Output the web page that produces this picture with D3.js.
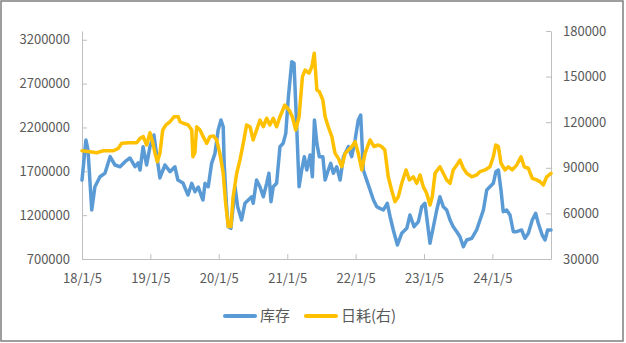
<!DOCTYPE html>
<html>
<head>
<meta charset="utf-8">
<script src="https://cdn.jsdelivr.net/npm/d3@7"></script>
<style>
  body { margin: 0; background: #fff; }
  svg { display: block; }
  text { font-family: "Noto Sans CJK SC", "DejaVu Sans", sans-serif; }
</style>
</head>
<body>
<script>
// 数据：库存（左轴）
const stockDates = ["2018-01-05","2018-01-26","2018-02-06","2018-02-26","2018-03-15","2018-04-11","2018-05-08","2018-06-04","2018-06-30","2018-07-27","2018-08-23","2018-09-18","2018-10-15","2018-10-31","2018-11-11","2018-11-27","2018-12-07","2018-12-16",
  "2019-01-03","2019-01-24","2019-02-09","2019-02-25","2019-03-24","2019-04-20","2019-05-16","2019-06-01","2019-06-28","2019-07-25","2019-08-14","2019-08-31","2019-09-18","2019-10-06","2019-10-13","2019-10-24","2019-11-10","2019-11-28","2019-12-16",
  "2020-01-02","2020-01-17","2020-01-29","2020-02-03","2020-02-16","2020-02-25","2020-03-10","2020-03-22","2020-04-01","2020-04-15","2020-05-06","2020-05-24","2020-06-11","2020-06-29","2020-07-07","2020-07-25","2020-08-12","2020-08-30","2020-09-17","2020-09-29","2020-10-10","2020-10-22","2020-11-09","2020-11-27","2020-12-14","2020-12-28",
  "2021-01-11","2021-01-29","2021-02-10","2021-02-25","2021-03-09","2021-03-23","2021-04-06","2021-04-19","2021-05-07","2021-05-19","2021-05-30","2021-06-12","2021-06-25","2021-07-14","2021-07-26","2021-08-12","2021-08-25","2021-09-08","2021-09-26","2021-10-14","2021-11-01","2021-11-27","2021-12-15",
  "2022-01-02","2022-01-19","2022-02-01","2022-02-15","2022-03-05","2022-03-23","2022-04-10","2022-04-28","2022-05-15","2022-06-02","2022-06-23","2022-07-08","2022-07-25","2022-08-16","2022-09-08","2022-10-05","2022-10-22","2022-11-13","2022-12-06","2022-12-24",
  "2023-01-10","2023-01-24","2023-02-06","2023-02-24","2023-03-14","2023-03-31","2023-04-18","2023-05-06","2023-05-24","2023-06-10","2023-06-29","2023-07-16","2023-08-03","2023-08-21","2023-09-17","2023-10-13","2023-10-31","2023-11-18","2023-12-06","2023-12-23",
  "2024-01-10","2024-01-24","2024-02-06","2024-02-20","2024-03-03","2024-03-21","2024-04-08","2024-04-26","2024-05-14","2024-06-09","2024-06-27","2024-07-15","2024-08-05","2024-08-23","2024-09-06","2024-09-27","2024-10-12","2024-10-26","2024-11-13"];
const stockValues = [1600000,2057000,1943000,1259000,1524000,1638000,1680000,1867000,1772000,1752000,1810000,1852000,1752000,1795000,1715000,1981000,1867000,1772000,
  1981000,2114000,1867000,1624000,1772000,1696000,1752000,1600000,1567000,1430000,1563000,1467000,1520000,1410000,1373000,1563000,1524000,1791000,1905000,
  2171000,2285000,2208000,1791000,1296000,1068000,1050000,1296000,1524000,1296000,1145000,1335000,1373000,1410000,1335000,1600000,1524000,1410000,1563000,1677000,1353000,1524000,1563000,1981000,2019000,2133000,
  2551000,2950000,2932000,2171000,1524000,1715000,1867000,1715000,1886000,1638000,2285000,2019000,1867000,1867000,1600000,1715000,1791000,1677000,1752000,1600000,1867000,1981000,1867000,
  2057000,2285000,2342000,1715000,1600000,1487000,1373000,1296000,1277000,1259000,1335000,1182000,1031000,860000,993000,1050000,1202000,1068000,1125000,1296000,
  1335000,1100000,880000,1068000,1259000,1410000,1296000,1259000,1145000,1068000,1011000,954000,840000,917000,936000,1031000,1145000,1259000,1487000,1524000,
  1563000,1696000,1715000,1487000,1240000,1259000,1202000,1011000,1011000,1031000,936000,993000,1145000,1221000,1107000,973000,917000,1031000,1031000];

// 数据：日耗（右轴）
const useDates = ["2018-01-05","2018-02-17","2018-03-24","2018-04-29","2018-06-21","2018-07-18","2018-08-05","2018-09-18","2018-10-24","2018-11-11","2018-11-28","2018-12-16",
  "2019-01-03","2019-01-17","2019-01-30","2019-02-11","2019-02-25","2019-03-12","2019-03-29","2019-04-20","2019-05-11","2019-06-03","2019-06-12","2019-06-30","2019-07-26","2019-08-14","2019-08-20","2019-08-31","2019-09-09","2019-09-27","2019-10-14","2019-11-02","2019-11-19","2019-12-07","2019-12-25",
  "2020-01-11","2020-01-29","2020-02-11","2020-02-25","2020-03-10","2020-03-22","2020-04-10","2020-04-27","2020-05-15","2020-06-02","2020-06-20","2020-07-07","2020-07-25","2020-08-12","2020-08-30","2020-09-17","2020-10-04","2020-10-22","2020-11-09","2020-11-27","2020-12-23",
  "2021-01-15","2021-02-01","2021-02-19","2021-03-09","2021-03-27","2021-04-10","2021-05-01","2021-05-16","2021-05-29","2021-06-12","2021-06-25","2021-07-14","2021-07-26","2021-08-12","2021-08-31","2021-09-17","2021-10-05","2021-10-23","2021-11-10","2021-11-27","2021-12-15",
  "2022-01-02","2022-01-19","2022-02-07","2022-02-24","2022-03-23","2022-04-13","2022-05-06","2022-05-24","2022-06-10","2022-06-28","2022-07-16","2022-08-03","2022-08-21","2022-09-08","2022-10-01","2022-10-19","2022-11-09","2022-11-27","2022-12-15",
  "2023-01-01","2023-01-19","2023-02-06","2023-02-18","2023-03-05","2023-03-31","2023-04-18","2023-05-06","2023-05-24","2023-06-10","2023-06-29","2023-07-16","2023-08-03","2023-08-21","2023-09-17","2023-10-13","2023-10-31","2023-11-27","2023-12-23",
  "2024-01-10","2024-01-23","2024-02-06","2024-02-20","2024-03-12","2024-03-30","2024-04-20","2024-05-14","2024-06-06","2024-06-23","2024-07-15","2024-08-05","2024-08-29","2024-09-15","2024-10-03","2024-10-21","2024-11-13"];
const useValues = [101200,100600,99900,101200,101200,102800,106100,106500,106500,109400,110500,105000,
  113100,107000,99500,94000,99500,114900,118200,120300,123600,123600,120300,119300,118200,114900,97300,100000,117000,114900,110500,106100,110500,111000,108300,
  99500,86400,66600,51300,51300,71000,86400,95100,106100,118200,117000,108300,114900,121400,117000,122600,118200,122600,117000,123600,131300,
  128000,123600,114900,123600,150000,154300,152200,156500,165300,141200,140100,134600,123600,117000,110500,99500,96200,90700,99500,101700,103900,
  107200,99500,88600,99500,108300,104000,105000,103900,101700,84100,75400,67700,71000,79800,88600,82000,84100,79800,85300,
  77600,73200,65500,71000,86400,90700,86400,82000,79800,88600,91800,95100,89700,86400,84100,85300,87500,88600,90700,
  97300,105000,104000,93000,88600,90700,88600,91800,97300,90700,89700,83100,82000,80900,78700,84100,86400];

// 坐标轴刻度
const xTickLabels = ["2018-01-05","2019-01-05","2020-01-05","2021-01-05","2022-01-05","2023-01-05","2024-01-05"];
const leftTicks = [700000,1200000,1700000,2200000,2700000,3200000];
const rightTicks = [30000,60000,90000,120000,150000,180000];
const seriesNames = ["库存", "日耗(右)"];
const seriesColors = ["#5B9BD5", "#FFC000"];

const W = 626, H = 343;
const plot = { left: 82, right: 551, top: 31, bottom: 259 };
const parse = d3.timeParse("%Y-%m-%d");

const svg = d3.select("body").append("svg")
  .attr("width", W).attr("height", H);

// 外框
svg.append("rect")
  .attr("x", 1).attr("y", 1).attr("width", W - 4).attr("height", H - 3)
  .attr("fill", "none").attr("stroke", "#7f7f7f").attr("stroke-width", 1.5);

const x = d3.scaleTime()
  .domain([parse("2018-01-05"), parse("2024-11-13")])
  .range([plot.left, plot.right]);
const yL = d3.scaleLinear().domain([700000, 3300000]).range([plot.bottom, plot.top]);
const yR = d3.scaleLinear().domain([30000, 180000]).range([plot.bottom, plot.top]);

function styleAxis(g) {
  g.select(".domain").attr("stroke", "#bfbfbf");
  g.selectAll(".tick line").attr("stroke", "#bfbfbf");
  g.selectAll(".tick text").attr("fill", "#595959").style("font-size", "13px");
}

svg.append("g")
  .attr("transform", `translate(0,${plot.bottom})`)
  .call(d3.axisBottom(x).tickValues(xTickLabels.map(parse))
    .tickFormat(d3.timeFormat("%y/%-m/%-d")).tickSize(-5).tickSizeOuter(0).tickPadding(15))
  .call(styleAxis);

svg.append("g")
  .attr("transform", `translate(${plot.left},0)`)
  .call(d3.axisLeft(yL).tickValues(leftTicks).tickFormat(d3.format("d"))
    .tickSize(-5).tickSizeOuter(0).tickPadding(12))
  .call(styleAxis);

svg.append("g")
  .attr("transform", `translate(${plot.right},0)`)
  .call(d3.axisRight(yR).tickValues(rightTicks).tickFormat(d3.format("d"))
    .tickSize(-5).tickSizeOuter(0).tickPadding(12))
  .call(styleAxis);

const stock = stockDates.map((d, i) => ({ date: parse(d), v: stockValues[i] }));
const use = useDates.map((d, i) => ({ date: parse(d), v: useValues[i] }));

svg.append("path")
  .datum(stock)
  .attr("fill", "none").attr("stroke", seriesColors[0]).attr("stroke-width", 3.5)
  .attr("stroke-linejoin", "round").attr("stroke-linecap", "round")
  .attr("d", d3.line().x(d => x(d.date)).y(d => yL(d.v)));

svg.append("path")
  .datum(use)
  .attr("fill", "none").attr("stroke", seriesColors[1]).attr("stroke-width", 3.5)
  .attr("stroke-linejoin", "round").attr("stroke-linecap", "round")
  .attr("d", d3.line().x(d => x(d.date)).y(d => yR(d.v)));

// 图例
const legend = svg.append("g").attr("transform", "translate(225,316)");
const legendX = [0, 81];
seriesNames.forEach((name, i) => {
  const g = legend.append("g").attr("transform", `translate(${legendX[i]},0)`);
  g.append("line").attr("x1", 0).attr("x2", 30).attr("y1", 0).attr("y2", 0)
    .attr("stroke", seriesColors[i]).attr("stroke-width", 4).attr("stroke-linecap", "round");
  g.append("text").attr("x", 35).attr("y", 0).attr("dy", "0.35em")
    .attr("fill", "#595959").style("font-size", "15px").text(name);
});
</script>
</body>
</html>
